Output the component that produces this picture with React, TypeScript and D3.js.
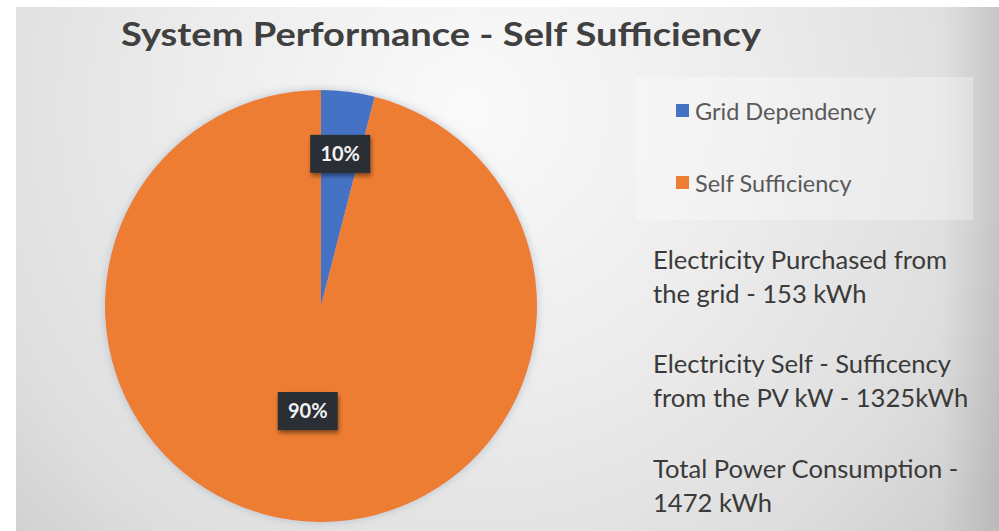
import React from 'react';
import * as d3 from 'd3';

// ---- data ----
const categories: string[] = ['Grid Dependency', 'Self Sufficiency'];
const plottedShares: number[] = [4, 96]; // slice sizes as drawn in the picture
const percentLabels: string[] = ['10%', '90%'];
const chartTitle = 'System Performance - Self Sufficiency';
const noteLines: string[] = [
  'Electricity Purchased from',
  'the grid - 153 kWh',
  'Electricity Self - Sufficency',
  'from the PV kW - 1325kWh',
  'Total Power Consumption -',
  '1472 kWh',
];

const W = 999;
const H = 531;
const FONT = 'Lato, "Open Sans", sans-serif';

export default function App() {
  const cx = 321;
  const cy = 306;
  const r = 216;

  const color = d3
    .scaleOrdinal<string, string>()
    .domain(categories)
    .range(['#4472C4', '#ED7D31']);

  const pie = d3
    .pie<number>()
    .sort(null)
    .value((d) => d);
  const arcs = pie(plottedShares);
  const arcGen = d3.arc<d3.PieArcDatum<number>>().innerRadius(0).outerRadius(r);
  const labelFactor = [0.71, 0.49];

  // note lines layout
  const noteBaselines = [269, 303, 373, 407, 478, 512];

  return (
    <svg
      width={W}
      height={H}
      viewBox={`0 0 ${W} ${H}`}
      style={{ position: 'fixed', left: 0, top: 0, display: 'block' }}
    >
      <defs>
        <radialGradient id="bg" cx="470" cy="110" r="640" gradientUnits="userSpaceOnUse">
          <stop offset="0" stopColor="#fafafa" />
          <stop offset="0.45" stopColor="#ececec" />
          <stop offset="0.8" stopColor="#dedede" />
          <stop offset="1" stopColor="#cfcfcf" />
        </radialGradient>
        <linearGradient id="rightEdge" x1="0" x2="1" y1="0" y2="0">
          <stop offset="0" stopColor="#000" stopOpacity="0" />
          <stop offset="1" stopColor="#000" stopOpacity="0.1" />
        </linearGradient>
        <filter id="pieShadow" x="-20%" y="-20%" width="140%" height="140%">
          <feDropShadow dx="0" dy="0" stdDeviation="5" floodColor="#9aa8b8" floodOpacity="0.6" />
        </filter>
        <filter id="boxShadow" x="-30%" y="-30%" width="160%" height="170%">
          <feDropShadow dx="1" dy="3" stdDeviation="2" floodColor="#000" floodOpacity="0.45" />
        </filter>
      </defs>

      <rect x={0} y={0} width={W} height={H} fill="#ffffff" />
      <rect x={16} y={7} width={W - 16} height={H - 7} fill="url(#bg)" />
      <rect x={940} y={7} width={59} height={H - 7} fill="url(#rightEdge)" />

      {/* title */}
      <text
        x={121}
        y={46}
        fontFamily={FONT}
        fontWeight={700}
        fontSize={33}
        fill="#404040"
        textLength={640}
        lengthAdjust="spacingAndGlyphs"
      >
        {chartTitle}
      </text>

      {/* pie */}
      <g transform={`translate(${cx},${cy})`} filter="url(#pieShadow)">
        {arcs.map((a, i) => (
          <path key={i} d={arcGen(a) || ''} fill={color(categories[i])} />
        ))}
      </g>

      {/* data labels */}
      {arcs.map((a, i) => {
        const k = r * labelFactor[i];
        const [lx, ly] = d3.arc<d3.PieArcDatum<number>>().innerRadius(k).outerRadius(k).centroid(a);
        const bw = 60;
        const bh = 38;
        return (
          <g key={i} transform={`translate(${cx + lx},${cy + ly})`}>
            <rect
              x={-bw / 2}
              y={-bh / 2}
              width={bw}
              height={bh}
              fill="#2a2e35"
              filter="url(#boxShadow)"
            />
            <text
              x={0}
              y={7}
              textAnchor="middle"
              fontFamily={FONT}
              fontWeight={700}
              fontSize={20}
              fill="#f2f2f2"
            >
              {percentLabels[i]}
            </text>
          </g>
        );
      })}

      {/* legend */}
      <rect x={636} y={77} width={337} height={143} fill="#ffffff" fillOpacity={0.3} />
      {categories.map((c, i) => (
        <g key={c} transform={`translate(676,${104 + i * 72})`}>
          <rect x={0} y={0} width={13} height={13} fill={color(c)} />
          <text
            x={19}
            y={16}
            fontFamily={FONT}
            fontSize={23.5}
            fill="#595959"
          >
            {c}
          </text>
        </g>
      ))}

      {/* notes */}
      {noteLines.map((t, i) => (
        <text
          key={i}
          x={653}
          y={noteBaselines[i]}
          fontFamily={FONT}
          fontSize={25.6}
          fill="#3a3a3a"
        >
          {t}
        </text>
      ))}
    </svg>
  );
}
